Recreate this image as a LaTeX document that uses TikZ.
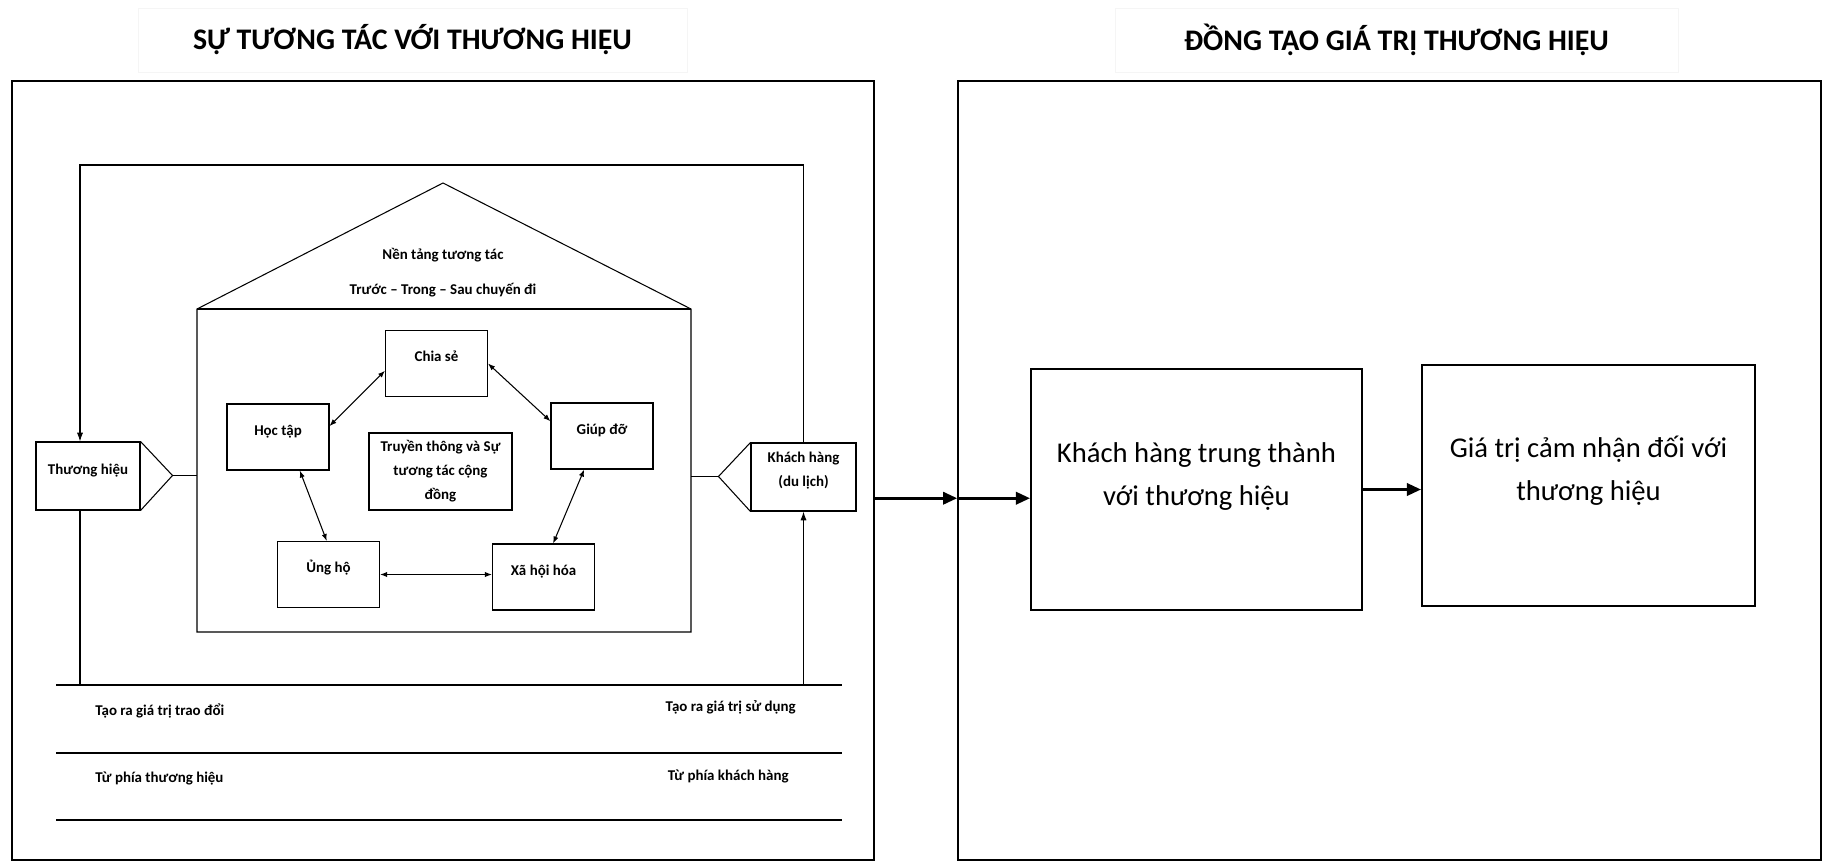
\documentclass[tikz,border=0pt]{standalone}
\usepackage{fontspec}
\setmainfont{Carlito}
\usetikzlibrary{arrows.meta}

\begin{document}
\begin{tikzpicture}[x=0.02cm,y=-0.02cm,
  every node/.style={inner sep=0pt},
  thin/.style={line width=0.6pt},
  bigframe/.style={draw,line width=1.1pt,minimum height=15.58cm},
  titlebox/.style={draw=gray!8,line width=0.4pt,minimum height=1.28cm,font=\fontsize{17}{20}\selectfont\bfseries},
  pbox/.style={draw,thin,minimum width=2.04cm,text height=0.62cm,text depth=0.70cm,font=\fontsize{8.5}{13.8}\selectfont\bfseries},
  mbox/.style={draw,thin,font=\fontsize{8.5}{13.8}\selectfont\bfseries},
  vbox/.style={draw,line width=1.2pt,text height=1.87cm,text depth=2.95cm,font=\fontsize{16.3}{24.5}\selectfont},
  lbl/.style={font=\fontsize{8.5}{10}\selectfont\bfseries},
  dbl/.style={thin,arrows={Latex[length=4pt,width=3pt]-Latex[length=4pt,width=3pt]}},
  one/.style={thin,arrows={-Latex[length=5pt,width=3.5pt]}},
  big/.style={line width=1.5pt,arrows={-Triangle[length=8pt,width=7pt]}}]
  \useasboundingbox (0,0) rectangle (1824,862);
  \node[titlebox,minimum width=10.98cm] (t1) at (412.5,40) {SỰ TƯƠNG TÁC VỚI THƯƠNG HIỆU};
  \node[titlebox,minimum width=11.26cm] (t2) at (1396.5,40) {ĐỒNG TẠO GIÁ TRỊ THƯƠNG HIỆU};
  \node[bigframe,minimum width=17.24cm] (lf) at (443,470.5) {};
  \node[bigframe,minimum width=17.26cm] (rf) at (1389.5,470.5) {};

  \coordinate (hw) at (197,309); \coordinate (he) at (691,309); \coordinate (apex) at (443,183);
  \draw[thin] (197,632) -- (hw) -- (apex) -- (he) -- (691,632) -- cycle;
  \draw[thin] (hw) -- (he);
  \node[lbl,font=\fontsize{8.5}{20}\selectfont\bfseries,anchor=base] (roof) at (443,259)
    {\begin{tabular}[t]{@{}c@{}}Nền tảng tương tác\\Trước – Trong – Sau chuyến đi\end{tabular}};

  \node[pbox] (chia) at (436.5,363.5) {Chia sẻ};
  \node[pbox] (hoc) at (278,437) {Học tập};
  \node[pbox] (giup) at (602,436) {Giúp đỡ};
  \node[pbox] (ung) at (328.5,574.5) {Ủng hộ};
  \node[pbox] (xa) at (543.5,577) {Xã hội hóa};
  \node[mbox,minimum width=2.86cm,text height=0.36cm,text depth=1.18cm] (tt) at (440.5,471.5)
    {\begin{tabular}[t]{@{}c@{}}Truyền thông và Sự\\tương tác cộng\\đồng\end{tabular}};
  \draw[dbl] (hoc.12) -- (chia.188);
  \draw[dbl] (chia.east) -- (giup.164);
  \draw[dbl] (giup.242) -- (xa.74);
  \draw[dbl] (hoc.303) -- (ung.93);
  \draw[dbl] (ung.east) -- (ung.east -| xa.west);

  \node[mbox,minimum width=2.08cm,text height=0.64cm,text depth=0.72cm] (th) at (88,476) {Thương hiệu};
  \node[mbox,minimum width=2.1cm,text height=0.38cm,text depth=0.98cm] (kh) at (803.5,477)
    {\begin{tabular}[t]{@{}c@{}}Khách hàng\\(du lịch)\end{tabular}};
  \draw[thin] (th.north east) -- ++(32,34) coordinate (thtip) -- (th.south east);
  \draw[thin] (thtip) -- (thtip -| hw);
  \draw[thin] (kh.north west) -- ++(-32,34) coordinate (khtip) -- (kh.south west);
  \draw[thin] (khtip) -- (khtip -| he);

  \coordinate (lt) at (80,165);
  \coordinate (lb) at (80,685);
  \draw[one] (kh.north) |- (lt) -- (lt |- th.north);
  \draw[thin] (lt |- th.south) -- (lb);
  \draw[one] (kh.south |- lb) -- (kh.south);
  \foreach \y in {685,753,820}
    \draw[line width=0.9pt] (56,\y) -- (842,\y);
  \node[lbl,anchor=base west] (tv1) at (95,715) {Tạo ra giá trị trao đổi};
  \node[lbl,anchor=base east] (tv2) at (796,711) {Tạo ra giá trị sử dụng};
  \node[lbl,anchor=base west] (tp1) at (95,782) {Từ phía thương hiệu};
  \node[lbl,anchor=base east] (tp2) at (789,780) {Từ phía khách hàng};

  \node[vbox,minimum width=6.62cm] (ktt) at (1196.5,489.5)
    {\begin{tabular}[t]{@{}c@{}}Khách hàng trung thành\\với thương hiệu\end{tabular}};
  \node[vbox,minimum width=6.66cm,text height=1.85cm,text depth=2.97cm] (gt) at (1588.5,485.5)
    {\begin{tabular}[t]{@{}c@{}}Giá trị cảm nhận đối với\\thương hiệu\end{tabular}};
  \draw[big] (ktt.183 -| lf.east) -- (ktt.183 -| rf.west);
  \draw[big] (ktt.183 -| rf.west) -- (ktt.183);
  \draw[big] (ktt.east) -- (ktt.east -| gt.west);
\end{tikzpicture}
\end{document}
